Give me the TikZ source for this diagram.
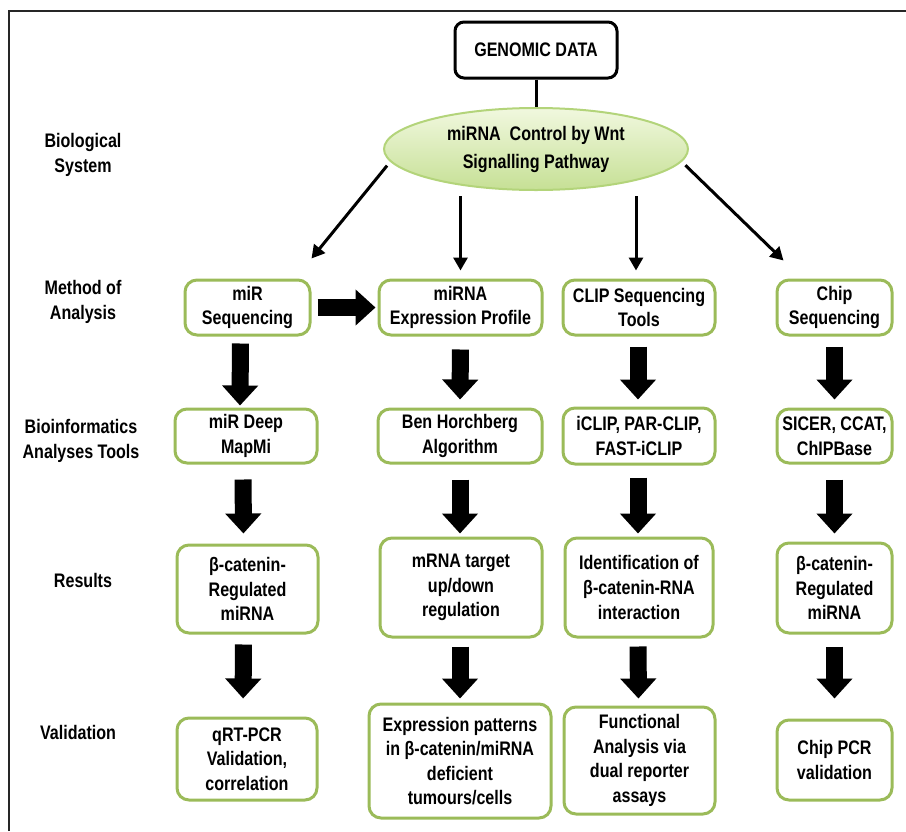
\documentclass[tikz,border=0pt]{standalone}
\usepackage{fontspec}
\setmainfont{Liberation Sans}[FakeStretch=0.82]
\usetikzlibrary{arrows.meta,calc,shapes.geometric}
\definecolor{boxgreen}{HTML}{9BBB59}
\definecolor{elltop}{HTML}{F1F8DF}
\definecolor{ellbot}{HTML}{C6E095}
\definecolor{elldraw}{HTML}{B3D47A}
\begin{document}
\begin{tikzpicture}[x=0.5pt,y=-0.5pt,
  every node/.style={font=\bfseries\fontsize{9.8pt}{12.3pt}\selectfont, text=black},
  gbox/.style={rectangle, draw=boxgreen, line width=1.5pt, rounded corners=6pt, align=center, inner sep=0pt, fill=white},
  gdbox/.style={rectangle, draw=black, line width=1.5pt, rounded corners=4.5pt, align=center, inner sep=0pt, fill=white},
  lab/.style={align=center, font=\bfseries\fontsize{9.8pt}{12.5pt}\selectfont},
  fat/.style={line width=8.5pt, -{Triangle[length=10pt,width=17.5pt]}},
  thinarr/.style={line width=1.5pt, -{Triangle[length=6.5pt,width=7pt]}}
]
\useasboundingbox (0,0) rectangle (906,831);
\draw[line width=1pt, black!85] (9,831) -- (9,11) -- (906,11);

% top
\node[gdbox, minimum width=81pt, minimum height=28pt] (gd) at (536,50) {GENOMIC DATA};
\node[ellipse, minimum width=152pt, minimum height=41pt, inner sep=0pt, align=center,
      draw=elldraw, line width=1pt, top color=elltop, bottom color=ellbot,
      font=\bfseries\fontsize{9.8pt}{14pt}\selectfont] (ell) at (536,149)
      {miRNA\ \ Control by Wnt\\Signalling Pathway};
\draw[line width=1.5pt] (gd.south) -- (ell.north);

% left labels
\node[lab] (l1) at (83,155) {Biological\\System};
\node[lab] (l2) at (83,302) {Method of\\Analysis};
\node[lab] (l3) at (81,441) {Bioinformatics\\Analyses Tools};
\node[lab] (l4) at (83,580) {Results};
\node[lab] (l5) at (78,732) {Validation};

% row 1
\node[gbox, minimum width=62.5pt, minimum height=27.5pt] (A1) at (247.5,307.5) {miR\\Sequencing};
\node[gbox, minimum width=81.5pt, minimum height=27.5pt] (A2) at (460.5,307.5) {miRNA\\Expression Profile};
\node[gbox, minimum width=76pt, minimum height=27.5pt] (A3) at (639,307.5) {CLIP Sequencing\\Tools};
\node[gbox, minimum width=57.5pt, minimum height=27.5pt] (A4) at (834.5,307.5) {Chip\\Sequencing};

% row 2
\node[gbox, minimum width=71pt, minimum height=27pt] (B1) at (246,436) {miR Deep\\MapMi};
\node[gbox, minimum width=82pt, minimum height=27pt] (B2) at (460,436) {Ben Horchberg\\Algorithm};
\node[gbox, minimum width=76pt, minimum height=28pt] (B3) at (639,436) {iCLIP, PAR-CLIP,\\FAST-iCLIP};
\node[gbox, minimum width=57.5pt, minimum height=27pt] (B4) at (834.5,436) {SICER, CCAT,\\ChIPBase};

% row 3
\node[gbox, minimum width=70.5pt, minimum height=44pt] (C1) at (247.5,589) {β-catenin-\\Regulated\\miRNA};
\node[gbox, minimum width=81pt, minimum height=49.5pt] (C2) at (461,587.5) {mRNA target\\up/down\\regulation};
\node[gbox, minimum width=74pt, minimum height=49.5pt] (C3) at (639,587.5) {Identification of\\β-catenin-RNA\\interaction};
\node[gbox, minimum width=57.5pt, minimum height=45pt] (C4) at (834.5,588) {β-catenin-\\Regulated\\miRNA};

% row 4
\node[gbox, minimum width=70pt, minimum height=41pt] (D1) at (247,759) {qRT-PCR\\Validation,\\correlation};
\node[gbox, minimum width=91pt, minimum height=57pt] (D2) at (460,761) {Expression patterns\\in β-catenin/miRNA\\deficient\\tumours/cells};
\node[gbox, minimum width=75.5pt, minimum height=53.5pt] (D3) at (639.5,760.5) {Functional\\Analysis via\\dual reporter\\assays};
\node[gbox, minimum width=57.5pt, minimum height=40pt] (D4) at (834.5,760) {Chip PCR\\validation};

% thin arrows from ellipse
\draw[thinarr, shorten <=2.5pt] (ell.185) -- ($(A1.north east)+(0,-20)$);
\draw[thinarr, shorten <=2.5pt, shorten >=4pt] (A2.north |- ell.south) -- (A2.north);
\draw[thinarr, shorten <=2.5pt, shorten >=4pt] ([xshift=-1.5pt]A3.north |- ell.south) -- ([xshift=-1.5pt]A3.north);
\draw[thinarr, shorten <=2.5pt] (ell.-5) -- ($(A4.north west)+(8,-18)$);

% fat arrows
\draw[fat, shorten <=3pt, shorten >=1pt] (A1.east) -- (A2.west);

\draw[fat, shorten <=3.5pt, shorten >=1pt] ([xshift=-3.5pt]A1.south) -- ([xshift=-3pt]B1.north);
\draw[fat, shorten <=6.5pt, shorten >=4pt] (A2.south) -- (B2.north);
\draw[fat, shorten <=5pt, shorten >=3.5pt] ([xshift=-0.5pt]A3.south) -- ([xshift=-0.5pt]B3.north);
\draw[fat, shorten <=5pt, shorten >=4pt] (A4.south) -- (B4.north);

\draw[fat, shorten <=7.5pt, shorten >=5pt] ([xshift=-1.5pt]B1.south) -- ([xshift=-2pt]C1.north);
\draw[fat, shorten <=7.5pt, shorten >=1.5pt] (B2.south) -- ([xshift=-0.5pt]C2.north);
\draw[fat, shorten <=6pt, shorten >=1.5pt] ([xshift=-0.5pt]B3.south) -- ([xshift=-0.5pt]C3.north);
\draw[fat, shorten <=7.5pt, shorten >=4pt] (B4.south) -- (C4.north);

\draw[fat, shorten <=5pt, shorten >=9pt] ([xshift=-2pt]C1.south) -- ([xshift=-2pt]D1.north);
\draw[fat, shorten <=4pt, shorten >=2pt] ([xshift=-0.5pt]C2.south) -- (D2.north);
\draw[fat, shorten <=4pt, shorten >=3.5pt] ([xshift=-0.5pt]C3.south) -- ([xshift=-0.5pt]D3.north);
\draw[fat, shorten <=6pt, shorten >=10pt] (C4.south) -- (D4.north);
\end{tikzpicture}
\end{document}
